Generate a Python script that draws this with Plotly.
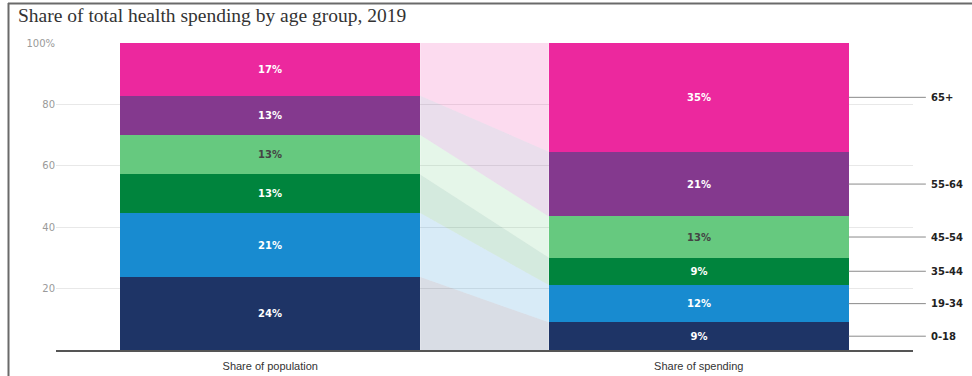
import plotly.graph_objects as go

# Age groups, bottom to top of each stack
age_groups = ["0-18", "19-34", "35-44", "45-54", "55-64", "65+"]
colors = ["#1E3466", "#188BD0", "#00843D", "#66C97F", "#84398E", "#EC289E"]
text_colors = ["#FFFFFF", "#FFFFFF", "#FFFFFF", "#444444", "#FFFFFF", "#FFFFFF"]

# Percent shares, 2019
population_share = [23.8, 20.8, 12.6, 12.8, 12.8, 17.2]
spending_share = [9.0, 12.2, 8.9, 13.4, 21.1, 35.4]

column_labels = ["Share of population", "Share of spending"]
y_tick_values = [20, 40, 60, 80, 100]
y_tick_labels = ["20", "40", "60", "80", "100%"]

X_RANGE = (-0.5, 1.5)
BAR_WIDTH = 0.7
W, H = 972, 376
MARGIN = dict(l=56, r=59, t=43, b=26)
PLOT_W = W - MARGIN["l"] - MARGIN["r"]
PLOT_H = H - MARGIN["t"] - MARGIN["b"]


def to_paper_x(x):
    return (x - X_RANGE[0]) / (X_RANGE[1] - X_RANGE[0])


def cumulative(vals):
    lows, highs, acc = [], [], 0.0
    for v in vals:
        lows.append(acc)
        acc += v
        highs.append(acc)
    return lows, highs


pop_lo, pop_hi = cumulative(population_share)
spd_lo, spd_hi = cumulative(spending_share)

fig = go.Figure()

# Translucent bands linking each group's slice across the two columns
left_edge = 0 + BAR_WIDTH / 2
right_edge = 1 - BAR_WIDTH / 2
for i, grp in enumerate(age_groups):
    fig.add_trace(go.Scatter(
        x=[left_edge, right_edge, right_edge, left_edge, left_edge],
        y=[pop_lo[i], spd_lo[i], spd_hi[i], pop_hi[i], pop_lo[i]],
        mode="lines", fill="toself", fillcolor=colors[i], opacity=0.17,
        line=dict(width=0), hoverinfo="skip", showlegend=False,
    ))

# Stacked bars
for i, grp in enumerate(age_groups):
    vals = [population_share[i], spending_share[i]]
    fig.add_trace(go.Bar(
        x=[0, 1], y=vals, width=BAR_WIDTH, name=grp,
        marker=dict(color=colors[i], line=dict(width=0)),
        text=[f"<b>{v:.0f}%</b>" for v in vals], textposition="inside",
        insidetextanchor="middle", textangle=0,
        insidetextfont=dict(family="DejaVu Sans", size=10, color=text_colors[i]),
        showlegend=False,
    ))

# Leader lines and labels for the age groups, right of the spending column
shapes = []
annotations = []
line_start = to_paper_x(1 + BAR_WIDTH / 2)
line_end = to_paper_x(1.53)
for i, grp in enumerate(age_groups):
    mid = (spd_lo[i] + spd_hi[i]) / 2
    shapes.append(dict(type="line", xref="paper", yref="y",
                       x0=line_start, x1=line_end, y0=mid, y1=mid,
                       line=dict(color="#8A8A8A", width=1)))
    annotations.append(dict(xref="paper", yref="y", x=line_end + 0.004, y=mid,
                            text=f"<b>{grp}</b>", showarrow=False,
                            xanchor="left", yanchor="middle",
                            font=dict(family="DejaVu Sans", size=10,
                                      color="#222222")))

# Outer frame: top rule and left rule
px_to_paper_x = lambda px: (px - MARGIN["l"]) / PLOT_W
px_to_paper_y = lambda py: (H - MARGIN["b"] - py) / PLOT_H
shapes.append(dict(type="line", xref="paper", yref="paper",
                   x0=px_to_paper_x(8), x1=px_to_paper_x(W),
                   y0=px_to_paper_y(3.5), y1=px_to_paper_y(3.5),
                   line=dict(color="#6A6A6A", width=2)))
shapes.append(dict(type="line", xref="paper", yref="paper",
                   x0=px_to_paper_x(8.5), x1=px_to_paper_x(8.5),
                   y0=px_to_paper_y(3), y1=px_to_paper_y(H),
                   line=dict(color="#6A6A6A", width=2)))

fig.update_layout(
    width=W, height=H, margin=MARGIN,
    paper_bgcolor="white", plot_bgcolor="white",
    barmode="stack", bargap=0,
    title=dict(text="Share of total health spending by age group, 2019",
               xref="container", yref="container", x=18 / W, y=1 - 8 / H,
               xanchor="left", yanchor="top",
               font=dict(family="Liberation Serif", size=19.5, color="#333333")),
    xaxis=dict(range=list(X_RANGE), tickvals=[0, 1], ticktext=column_labels,
               showgrid=False, zeroline=False, showline=True,
               linecolor="#555555", linewidth=1.5, ticks="",
               ticklabelstandoff=5, automargin=False,
               tickfont=dict(family="Liberation Sans Narrow, Liberation Sans",
                             size=11, color="#333333")),
    yaxis=dict(range=[0, 100], tickvals=y_tick_values, ticktext=y_tick_labels,
               showgrid=True, gridcolor="#E8E8E8", gridwidth=1,
               zeroline=False, showline=False, ticks="", automargin=False,
               tickfont=dict(family="DejaVu Sans", size=10, color="#9A9A9A")),
    shapes=shapes, annotations=annotations,
    uniformtext=dict(mode="show", minsize=8),
)

fig.write_html("out.html")
